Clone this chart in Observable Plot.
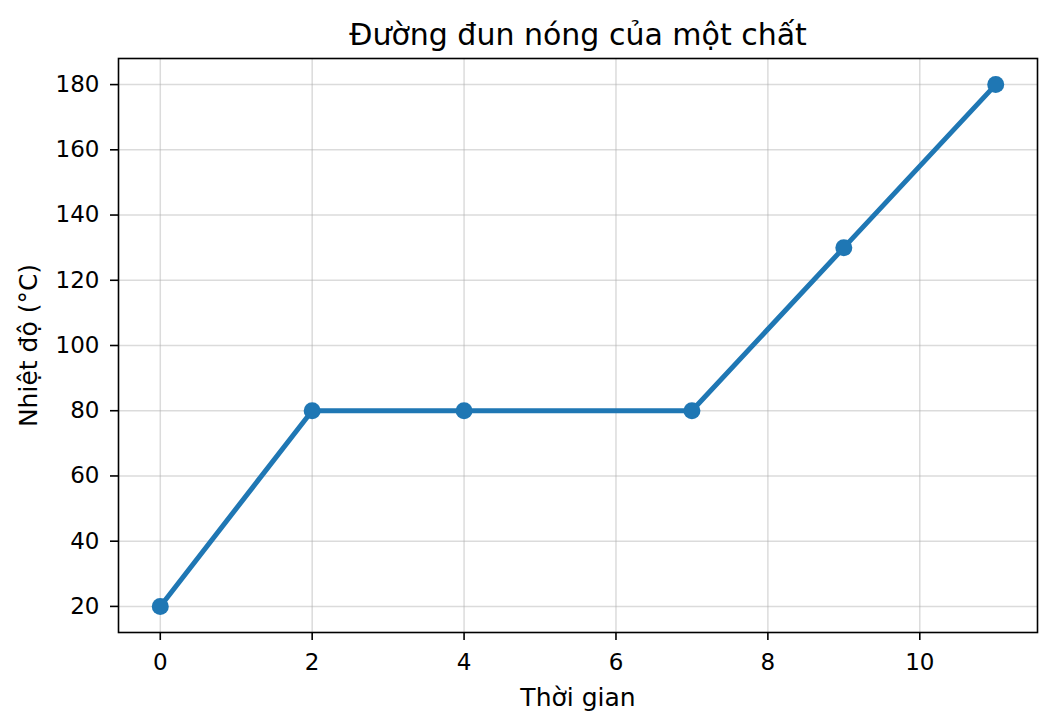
<!DOCTYPE html>
<html><head><meta charset="utf-8">
<script src="https://cdn.jsdelivr.net/npm/d3@7"></script>
<script src="https://cdn.jsdelivr.net/npm/@observablehq/plot@0.6"></script>
<style>
body{margin:0;background:#fff;font-family:"DejaVu Sans",sans-serif;}
</style></head>
<body><div id="wrap"></div>
<script>
const title = "Đường đun nóng của một chất";
const times = [0, 2, 4, 7, 9, 11];
const temps = [20, 80, 80, 80, 130, 180];
const xTicks = [0, 2, 4, 6, 8, 10];
const yTicks = [20, 40, 60, 80, 100, 120, 140, 160, 180];
const data = times.map((t, i) => ({t, v: temps[i]}));
const color = "#1f77b4";
const chart = Plot.plot({
  width: 1057, height: 728,
  marginLeft: 118, marginRight: 20, marginTop: 58, marginBottom: 96,
  style: {fontFamily: "DejaVu Sans", fontSize: "23px", color: "#000", background: "#fff"},
  x: {domain: [-0.55, 11.55]},
  y: {domain: [12, 188]},
  marks: [
    Plot.gridX(xTicks, {stroke: "#b0b0b0", strokeOpacity: 0.45, strokeWidth: 1.5}),
    Plot.gridY(yTicks, {stroke: "#b0b0b0", strokeOpacity: 0.45, strokeWidth: 1.5}),
    Plot.axisX(xTicks, {fontSize: 23, tickSize: 8, tickPadding: 13, strokeWidth: 1.6, label: null}),
    Plot.axisY(yTicks, {fontSize: 23, tickSize: 8, tickPadding: 11, strokeWidth: 1.6, label: null}),
    Plot.axisX({fontSize: 25, ticks: [], tickSize: 0,
      label: "Thời gian", labelAnchor: "center", labelArrow: "none", labelOffset: 73}),
    Plot.axisY({fontSize: 25, ticks: [], tickSize: 0,
      label: "Nhiệt độ (°C)", labelAnchor: "center", labelArrow: "none", labelOffset: 99}),
    Plot.line(data, {x: "t", y: "v", stroke: color, strokeWidth: 5}),
    Plot.dot(data, {x: "t", y: "v", fill: color, r: 8.5}),
    Plot.frame({stroke: "#000", strokeWidth: 1.6}),
    Plot.text([title], {frameAnchor: "top", lineAnchor: "bottom", dy: -14, fontSize: 30, fill: "#000"})
  ]
});
document.getElementById("wrap").append(chart);
</script>
</body></html>
